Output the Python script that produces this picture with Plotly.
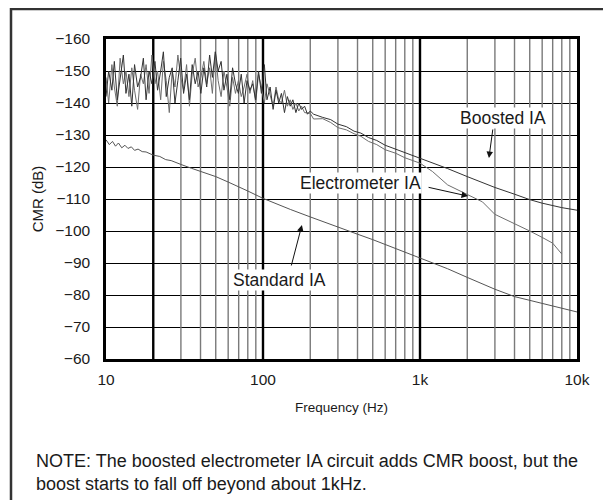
import plotly.graph_objects as go

# ---------------- data ----------------
# noisy low-frequency sweep (shared frequency points for the two overlapping traces)
noise_freq = [10, 10.4, 10.9, 11.3, 11.8, 12.3, 12.9, 13.4, 14, 14.6, 15.2, 15.9, 16.6, 17.3, 18,
              18.8, 19.6, 20.5, 21.3, 22.3, 23.2, 24.2, 25.3, 26.4, 27.5, 28.7, 29.9, 31.2, 32.6,
              34, 35.4, 37, 38.6, 40.2, 42, 43.8, 45.7, 47.6, 49.7, 51.8, 54.1, 56.4, 58.9, 61.4,
              64, 66.8, 69.7, 72.7, 75.8, 79.1, 82.5, 86, 89.8, 93.6, 97.7, 102, 106, 111, 116,
              121, 126, 131, 137, 143, 149, 155, 162, 169, 176, 184, 192, 200]
boosted_noise = [-142, -150, -144, -153, -141, -147, -155, -143, -149, -139, -152, -145, -148, -154, -141, -150, -146,
                 -153, -144, -150, -156, -142, -148, -151, -140, -147, -154, -143, -149, -141, -152, -146, -150, -143,
                 -151, -145, -155, -148, -156, -150, -153, -144, -149, -141, -151, -146, -143, -149, -140, -147, -144,
                 -146, -141, -150, -143, -152, -141, -145, -138, -144, -140, -143, -137, -142, -139, -141, -137,
                 -140, -138, -139, -136.5, -137.5]
electro_noise = [-148, -140, -152, -145, -139, -154, -146, -150, -142, -151, -144, -138, -149, -146, -152, -143, -155,
                 -146, -150, -141, -153, -147, -137, -150, -145, -155, -148, -144, -152, -139, -149, -154, -145,
                 -148, -153, -146, -151, -143, -156, -147, -142, -150, -145, -139, -148, -143, -147, -142, -145, -149,
                 -143, -147, -140, -149, -145, -140, -146, -142, -139, -145, -141, -140, -144, -139, -141, -138,
                 -140, -137.5, -139, -137, -137]

# smooth high-frequency part
hf_freq = [210, 240, 270, 300, 340, 380, 420, 470, 530, 600, 700, 800, 1000, 1200, 1500, 2000, 2500,
           3000, 4000, 5000, 6000, 7000, 8000, 10000]
boosted_hf = [-136.5, -135.5, -134.8, -133.4, -132.6, -131.2, -130.6, -129.2, -128.3, -126.8, -125.6, -124.5,
              -122.8, -121.4, -119.5, -117, -115, -113.6, -111.5, -109.8, -108.7, -107.9, -107.3, -106.5]
electro_hf = [-136.8, -135.0, -135.1, -133.9, -132.3, -131.6, -130.4, -129.6, -128.0, -127.0, -125.4, -124.3,
              -122.9, -121.2, -118.6, -114.4, -111.4, -109.1, -105.2, -102.4, -100.0, -98.0, -96.2, -92.8]

std_freq = [10, 10.5, 11, 11.5, 12, 12.6, 13.2, 13.8, 14.5, 15.2, 16, 17, 18, 19, 20, 22, 24, 26, 28, 30,
            35, 40, 50, 60, 70, 80, 100, 120, 150, 200, 250, 300, 400, 500, 600, 800, 1000, 1500, 2000,
            3000, 4000, 5000, 6000, 8000, 10000]
std_cmr = [-128.5, -127, -128, -126.5, -127.5, -126, -126.8, -125.8, -126.3, -125.2, -125.6, -124.8, -124.7,
           -124.2, -123.7, -123.3, -122.3, -122, -121.3, -120.8, -119.6, -118.6, -117, -115.3, -113.9, -112.5,
           -110.2, -108.6, -106.7, -104.4, -102.6, -101.2, -99, -97.3, -95.8, -93.4, -91.4, -88.2, -85.5,
           -81.8, -79.5, -78.3, -77.3, -75.8, -74.7]

x_tickvals = [10, 100, 1000, 10000]
x_ticktext = ["10", "100", "1k", "10k"]
y_tickvals = [-160, -150, -140, -130, -120, -110, -100, -90, -80, -70, -60]
y_ticktext = ["\u2212160", "\u2212150", "\u2212140", "\u2212130", "\u2212120", "\u2212110", "\u2212100",
              "\u221290", "\u221280", "\u221270", "\u221260"]

FONT = "Liberation Sans, Arial, Helvetica, sans-serif"
TXT = "#1a1a1a"

fig = go.Figure()

# vertical grid lines (log grid)
thick_grid = [20, 100, 1000]
thin_grid = [m * 10 ** d for d in (1, 2, 3) for m in range(2, 10) if m * 10 ** d not in thick_grid]


def vlines(xs):
    gx, gy = [], []
    for v in xs:
        gx += [v, v, None]
        gy += [-160, -60, None]
    return gx, gy


gx, gy = vlines(thin_grid)
fig.add_trace(go.Scatter(x=gx, y=gy, mode="lines", line=dict(color="#7a7a7a", width=1.4),
                         hoverinfo="skip", showlegend=False))
gx, gy = vlines(thick_grid)
fig.add_trace(go.Scatter(x=gx, y=gy, mode="lines", line=dict(color="#000000", width=2.4),
                         hoverinfo="skip", showlegend=False))

# data traces
fig.add_trace(go.Scatter(x=std_freq, y=std_cmr, mode="lines", name="Standard IA",
                         line=dict(color="#555555", width=1)))
fig.add_trace(go.Scatter(x=noise_freq + hf_freq, y=electro_noise + electro_hf, mode="lines",
                         name="Electrometer IA", line=dict(color="#6e6e6e", width=1)))
fig.add_trace(go.Scatter(x=noise_freq + hf_freq, y=boosted_noise + boosted_hf, mode="lines",
                         name="Boosted IA", line=dict(color="#333333", width=1)))

fig.update_layout(
    width=603, height=492,
    margin=dict(l=98, r=34, t=31, b=141),
    paper_bgcolor="white", plot_bgcolor="white",
    showlegend=False,
    font=dict(family=FONT, size=14, color=TXT),
    xaxis=dict(type="log", range=[1, 4], tickvals=x_tickvals, ticktext=x_ticktext,
               showgrid=False, zeroline=False, showline=True, mirror=True,
               linecolor="black", linewidth=2.5, ticks="", ticklabelstandoff=5,
               tickfont=dict(size=15.5),
               title=dict(text="Frequency (Hz)", font=dict(size=13.5), standoff=16)),
    yaxis=dict(range=[-60, -160], tickvals=y_tickvals, ticktext=y_ticktext,
               showgrid=True, gridcolor="black", gridwidth=1.2, zeroline=False,
               showline=True, mirror=True, linecolor="black", linewidth=2.5, ticks="",
               ticklabelstandoff=10, tickfont=dict(size=15.5),
               title=dict(text="CMR (dB)", font=dict(size=15), standoff=8)),
)

# outer frame (left and top edges visible)
fig.add_shape(type="rect", xref="paper", yref="paper",
              x0=(3 - 98) / 471, x1=(615 - 98) / 471, y0=(351 - 505) / 320, y1=(351 - 1) / 320,
              line=dict(color="#333333", width=2.5), fillcolor="rgba(0,0,0,0)", layer="below")

# labels and arrows (annotation positions on log axis are log10 values)
labels = [("Boosted IA", 3.529, -135.3), ("Electrometer IA", 2.618, -115.0), ("Standard IA", 2.108, -84.7)]
for txt, lx, ly in labels:
    fig.add_annotation(x=lx, y=ly, text=txt, showarrow=False, bgcolor="white", borderpad=0,
                       font=dict(size=17.5, family=FONT, color=TXT))

arrows = [(3.465, -132.2, 3.439, -122.8), (3.045, -113.75, 3.306, -110.9), (2.178, -88.75, 2.248, -101.9)]
for ax0, ay0, hx, hy in arrows:
    fig.add_annotation(x=hx, y=hy, ax=ax0, ay=ay0, axref="x", ayref="y", xref="x", yref="y",
                       text="", showarrow=True, arrowhead=2, arrowsize=1.3, arrowwidth=1,
                       arrowcolor="#111111")

fig.add_annotation(xref="paper", yref="paper", x=(26 - 98) / 471, y=(351 - 464) / 320,
                   xanchor="left", yanchor="middle", align="left", showarrow=False,
                   text="NOTE: The boosted electrometer IA circuit adds CMR boost, but the<br>"
                        "boost starts to fall off beyond about 1kHz.",
                   font=dict(size=18, family=FONT, color=TXT))

fig.write_html("out.html")
